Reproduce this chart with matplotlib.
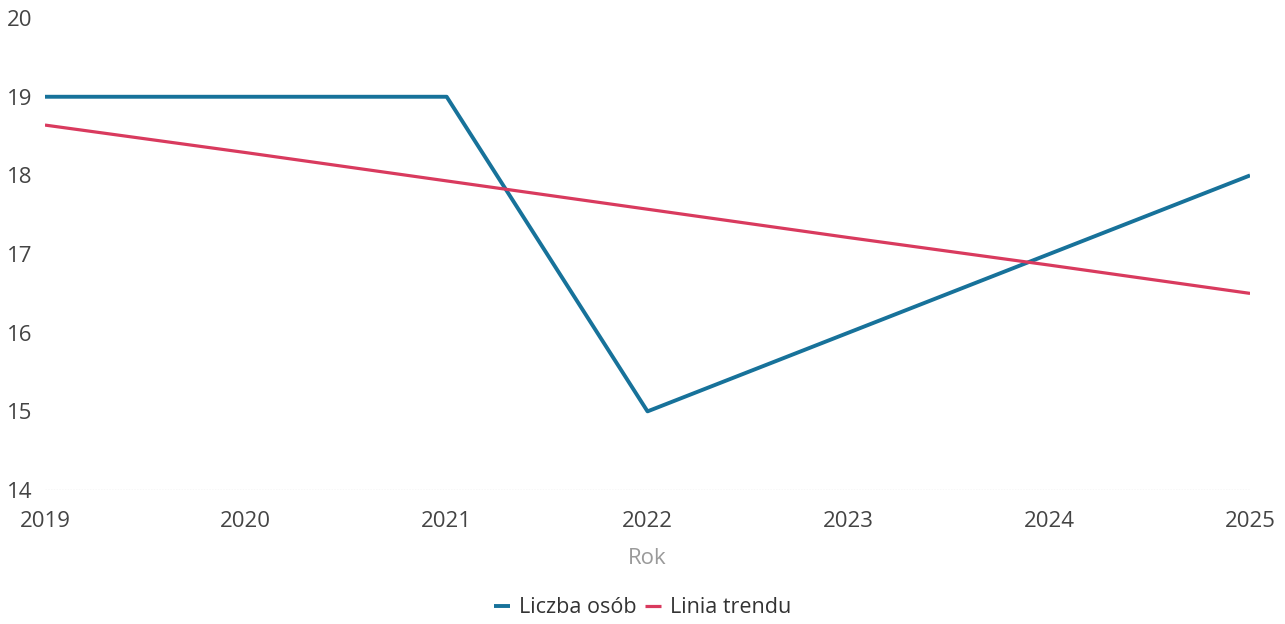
import matplotlib.pyplot as plt

# Dane: liczba osób w kolejnych latach i odczytana linia trendu
years = [2019, 2020, 2021, 2022, 2023, 2024, 2025]
liczba_osob = [19, 19, 19, 15, 16, 17, 18]
linia_trendu = [18.64, 18.29, 17.93, 17.57, 17.21, 16.86, 16.5]
y_ticks = [14, 15, 16, 17, 18, 19, 20]

plt.rcParams['font.family'] = ['Open Sans', 'DejaVu Sans']

fig = plt.figure(figsize=(12.85, 6.24), dpi=100)
ax = fig.add_axes([0.035, 0.2147, 0.9378, 0.7563])

ax.plot(years, liczba_osob, color='#17729a', lw=2.8, label='Liczba osób', solid_capstyle='butt')
ax.plot(years, linia_trendu, color='#d93a5e', lw=2.3, label='Linia trendu', solid_capstyle='butt')

ax.set_xlim(years[0], years[-1])
ax.set_ylim(14, 20)
ax.set_xticks(years)
ax.set_yticks(y_ticks)
ax.tick_params(axis='both', length=0, labelsize=16, colors='#444444')
ax.tick_params(axis='x', pad=15)
ax.tick_params(axis='y', pad=9)
for s in ax.spines.values():
    s.set_visible(False)
ax.axhline(14, color='#dddddd', lw=1, ls=(0, (1, 1)), zorder=0)

ax.set_xlabel('Rok', fontsize=16, color='#9a9a9a')
ax.xaxis.set_label_coords(0.5, -0.122)

fig.legend(loc='center', bbox_to_anchor=(0.5, 0.026), ncol=2, frameon=False,
           fontsize=15.5, handlelength=0.75, handletextpad=0.4, columnspacing=0.4,
           labelcolor='#333333')

plt.savefig('out.png', dpi=100)
